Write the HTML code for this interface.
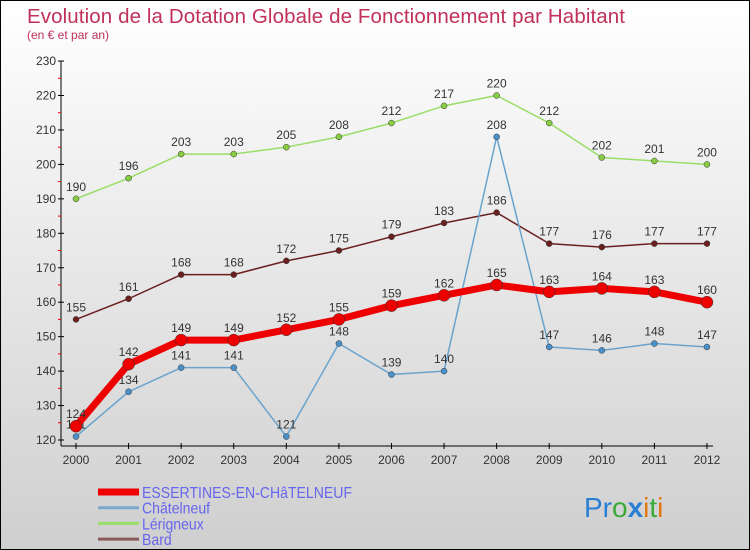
<!DOCTYPE html>
<html><head><meta charset="utf-8"><style>
body{margin:0}
#c{width:748px;height:548px;border:1px solid #000;background:linear-gradient(#ffffff,#cfcfcf);position:relative;overflow:hidden;font-family:"Liberation Sans",sans-serif}
</style></head><body>
<div id="c">
<svg id="s" width="748" height="548" xmlns="http://www.w3.org/2000/svg">
<text x="26" y="22" font-size="20.5" fill="#c0305a" textLength="598">Evolution de la Dotation Globale de Fonctionnement par Habitant</text>
<text x="26" y="38" font-size="12" fill="#c0305a">(en € et par an)</text>
<g id="axes"></g><g id="series"></g><g id="legend"></g>
<text x="583" y="516" font-size="28"><tspan fill="#2a7fd4">Pr</tspan><tspan fill="#3aaa3a">o</tspan><tspan fill="#2a7fd4" font-weight="bold">x</tspan><tspan fill="#e07a10">i</tspan><tspan fill="#3aaa3a">t</tspan><tspan fill="#e07a10">i</tspan></text>
</svg></div>
<script>
const years=[2000,2001,2002,2003,2004,2005,2006,2007,2008,2009,2010,2011,2012];
const essertines=[124,142,149,149,152,155,159,162,165,163,164,163,160];
const chatelneuf=[121,134,141,141,121,148,139,140,208,147,146,148,147];
const lerigneux=[190,196,203,203,205,208,212,217,220,212,202,201,200];
const bard=[155,161,168,168,172,175,179,183,186,177,176,177,177];
const yTicks=[120,130,140,150,160,170,180,190,200,210,220,230];
const names=["ESSERTINES-EN-CHâTELNEUF","Châtelneuf","Lérigneux","Bard"];
const NS="http://www.w3.org/2000/svg";
const X=i=>75+i*52.58;
const Y=v=>439-(v-120)*3.445;
function mk(tag,attrs,parent){const e=document.createElementNS(NS,tag);for(const k in attrs)e.setAttribute(k,attrs[k]);parent.appendChild(e);return e;}
const ax=document.getElementById('axes');
let l=mk('line',{x1:60,y1:Y(230),x2:60,y2:445,stroke:'#000'},ax);


l=mk('line',{x1:60,y1:445,x2:712,y2:445,stroke:'#000'},ax);


yTicks.forEach(v=>{
 mk('line',{x1:57,y1:Y(v),x2:63,y2:Y(v),stroke:'#000'},ax);
 if(v<230) mk('line',{x1:57,y1:Y(v+5),x2:60,y2:Y(v+5),stroke:'#e00'},ax);
 const t=mk('text',{x:55,y:Y(v)+4,'font-size':12,fill:'#333','text-anchor':'end'},ax);t.textContent=v;
 
 
});
years.forEach((y,i)=>{
 mk('line',{x1:X(i),y1:442,x2:X(i),y2:448,stroke:'#000'},ax);
 const t=mk('text',{x:X(i),y:463,'font-size':12,fill:'#333','text-anchor':'middle'},ax);t.textContent=y;
 
 
});
const sg=document.getElementById('series');
function draw(data,color,w,r,dot,name){
 const g=mk('g',{},sg);
 
 
 mk('polyline',{points:data.map((v,i)=>X(i)+','+Y(v)).join(' '),fill:'none',stroke:color,'stroke-width':w,'stroke-linejoin':'round'},g);
 data.forEach((v,i)=>{
  const c=mk('circle',{cx:X(i),cy:Y(v),r:r,fill:dot,stroke:'#333','stroke-width':0.5},g);
  
  
  const t=mk('text',{x:X(i),y:Y(v)-8,'font-size':12,fill:'#333','text-anchor':'middle'},g);t.textContent=v;
  
  
 });
}
draw(lerigneux,'#99dd66',1.5,3,'#88cc44','series-lerigneux');
draw(bard,'#6b2020',1.5,3,'#6b2020','series-bard');
draw(chatelneuf,'#6aa3cc',1.5,3,'#4a90c8','series-chatelneuf');
draw(essertines,'#ee0000',7,6,'#ee0000','series-essertines');
const lg=document.getElementById('legend');
const lc=['#ee0000','#7aa8cc','#99dd66','#8b5a5a'],lw=[7,3,3,3];
names.forEach((n,i)=>{
 const y=491+i*15.7;
 const g=mk('g',{},lg);
 
 
 mk('line',{x1:97,y1:y,x2:138,y2:y,stroke:lc[i],'stroke-width':lw[i]},g);
 const t=mk('text',{x:141,y:y+6,'font-size':16,fill:'#6666ee',transform:'translate(141 0) scale(0.88 1) translate(-141 0)'},g);t.textContent=n;
});
</script></body></html>
